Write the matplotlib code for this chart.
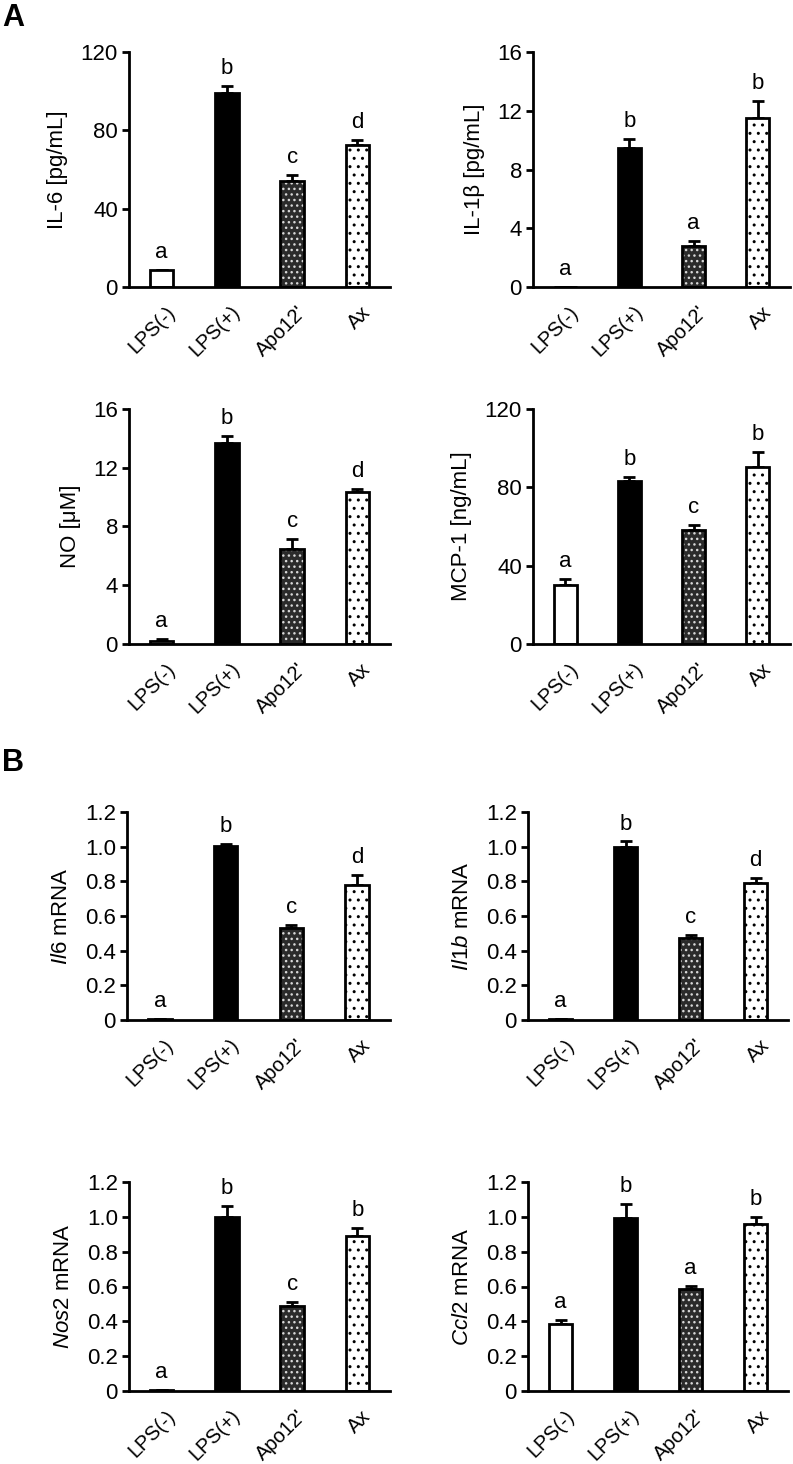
import matplotlib
matplotlib.use("Agg")
import matplotlib.pyplot as plt
import matplotlib.transforms as mtransforms
from matplotlib.ticker import FuncFormatter
import numpy as np

plt.rcParams['font.family'] = ['Liberation Sans', 'DejaVu Sans']
plt.rcParams['hatch.linewidth'] = 1.0
plt.rcParams['mathtext.fontset'] = 'custom'
plt.rcParams['mathtext.it'] = 'Liberation Sans:italic'
plt.rcParams['mathtext.rm'] = 'Liberation Sans'

groups = ["LPS(-)", "LPS(+)", "Apo12'", "Ax"]

# panel A: protein levels
il6_vals = [8.5, 99, 54, 72.7]
il6_err = [0, 3.5, 3.4, 2.2]
il6_sig = ["a", "b", "c", "d"]

il1b_vals = [0, 9.48, 2.77, 11.48]
il1b_err = [0, 0.57, 0.35, 1.18]
il1b_sig = ["a", "b", "a", "b"]

no_vals = [0.2, 13.67, 6.49, 10.34]
no_err = [0.15, 0.52, 0.63, 0.23]
no_sig = ["a", "b", "c", "d"]

mcp1_vals = [29.9, 83.2, 58.1, 90.6]
mcp1_err = [3.4, 2.2, 2.6, 7.3]
mcp1_sig = ["a", "b", "c", "b"]

# panel B: relative mRNA
il6m_vals = [0.005, 1.004, 0.53, 0.776]
il6m_err = [0, 0.01, 0.02, 0.058]
il6m_sig = ["a", "b", "c", "d"]

il1bm_vals = [0.005, 1.0, 0.474, 0.79]
il1bm_err = [0, 0.03, 0.015, 0.032]
il1bm_sig = ["a", "b", "c", "d"]

nos2_vals = [0.005, 1.0, 0.488, 0.889]
nos2_err = [0, 0.061, 0.025, 0.048]
nos2_sig = ["a", "b", "c", "b"]

ccl2_vals = [0.387, 0.996, 0.587, 0.958]
ccl2_err = [0.023, 0.08, 0.015, 0.042]
ccl2_sig = ["a", "b", "a", "b"]

W, H = 793, 1464
fig = plt.figure(figsize=(W / 100, H / 100), dpi=100)

fs = 16
xfs = 14.5


def px_axes(left, top, width, bottom):
    return fig.add_axes([left / W, 1 - bottom / H, width / W, (bottom - top) / H])


def mrna_fmt(v, pos):
    return "0" if abs(v) < 1e-9 else "%.1f" % v


def draw_panel(ax, vals, errs, sig, ymax, step, ylabel, mrna=False):
    x = np.arange(len(groups))
    w = 0.36
    faces = ["white", "black", "#2b2b2b", "white"]
    hatches = [None, None, "...", ".."]
    hcols = ["white", "black", "#d8d8d8", "black"]
    ax.errorbar(x, vals, yerr=[np.zeros(len(vals)), errs], fmt="none",
                ecolor="black", elinewidth=2, capsize=4, capthick=2, zorder=1)
    for i in range(len(groups)):
        ax.bar(x[i], vals[i], width=w, color=faces[i], edgecolor=hcols[i],
               hatch=hatches[i], linewidth=0, zorder=2)
        ax.bar(x[i], vals[i], width=w, facecolor="none", edgecolor="black",
               linewidth=2, zorder=3)
        ax.annotate(sig[i], (x[i], vals[i] + errs[i]), xytext=(0, 5),
                    textcoords="offset points", ha="center", va="bottom",
                    fontsize=fs)
    ax.set_xlim(-0.5, 3.5)
    ax.set_ylim(0, ymax)
    ax.set_yticks(np.arange(0, ymax + step / 2, step))
    if mrna:
        ax.yaxis.set_major_formatter(FuncFormatter(mrna_fmt))
    ax.spines["top"].set_visible(False)
    ax.spines["right"].set_visible(False)
    ax.spines["left"].set_linewidth(2)
    ax.spines["bottom"].set_linewidth(2)
    ax.tick_params(axis="y", direction="out", length=5, width=2, labelsize=fs, pad=3)
    ax.tick_params(axis="x", length=0, pad=11)
    ax.set_xticks(x)
    ax.set_xticklabels(groups, fontsize=xfs, rotation=45, ha="right",
                       va="top", rotation_mode="anchor")
    shift = mtransforms.ScaledTranslation(4 / 100, 0, fig.dpi_scale_trans)
    for lab in ax.get_xticklabels():
        lab.set_transform(lab.get_transform() + shift)
    ax.set_ylabel(ylabel, fontsize=fs, labelpad=9)


panels = [
    (129, 52, 261, 287, il6_vals, il6_err, il6_sig, 120, 40, "IL-6 [pg/mL]", False),
    (533, 52, 257, 287, il1b_vals, il1b_err, il1b_sig, 16, 4, "IL-1β [pg/mL]", False),
    (129, 409, 261, 644, no_vals, no_err, no_sig, 16, 4, "NO [μM]", False),
    (533, 409, 257, 644, mcp1_vals, mcp1_err, mcp1_sig, 120, 40, "MCP-1 [ng/mL]", False),
    (127, 812, 263, 1020, il6m_vals, il6m_err, il6m_sig, 1.2, 0.2, r"$\it{Il6}$ mRNA", True),
    (528, 812, 260, 1020, il1bm_vals, il1bm_err, il1bm_sig, 1.2, 0.2, r"$\it{Il1b}$ mRNA", True),
    (129, 1182, 261, 1391, nos2_vals, nos2_err, nos2_sig, 1.2, 0.2, r"$\it{Nos2}$ mRNA", True),
    (528, 1182, 260, 1391, ccl2_vals, ccl2_err, ccl2_sig, 1.2, 0.2, r"$\it{Ccl2}$ mRNA", True),
]

for left, top, width, bottom, vals, errs, sig, ymax, step, ylabel, mrna in panels:
    ax = px_axes(left, top, width, bottom)
    draw_panel(ax, vals, errs, sig, ymax, step, ylabel, mrna)

fig.text(2 / W, 1 - 18 / H, "A", fontsize=22, fontweight="bold", va="center", ha="left")
fig.text(2 / W, 1 - 763 / H, "B", fontsize=22, fontweight="bold", va="center", ha="left")

fig.savefig("out.png", dpi=100)
